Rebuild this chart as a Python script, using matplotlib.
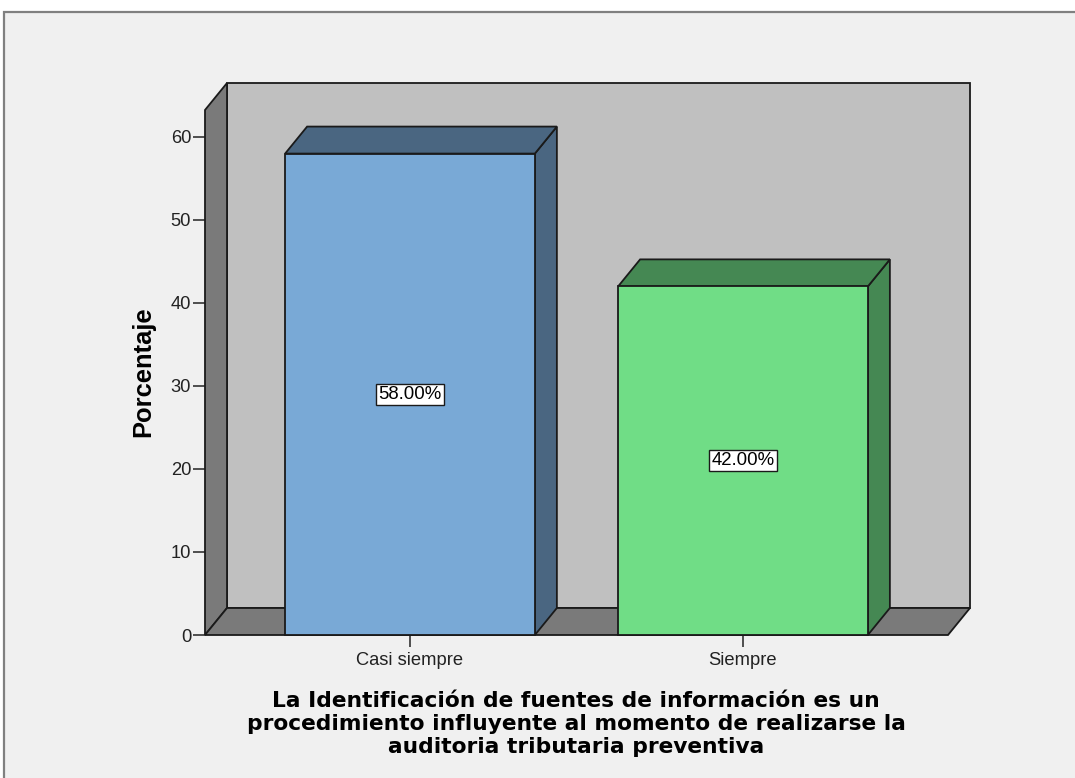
import matplotlib
matplotlib.use("Agg")
import matplotlib.pyplot as plt
from matplotlib.patches import Polygon, Rectangle

# ---- data -------------------------------------------------------------
categories = ["Casi siempre", "Siempre"]
percentages = [58.00, 42.00]
y_ticks = [0, 10, 20, 30, 40, 50, 60]
y_label = "Porcentaje"
x_title = ["La Identificación de fuentes de información es un",
           "procedimiento influyente al momento de realizarse la",
           "auditoria tributaria preventiva"]

# ---- styling ----------------------------------------------------------
front_colors = ["#79a9d6", "#70dd86"]
shade_colors = ["#4a6681", "#458853"]
wall_back = "#c0c0c0"
wall_side = "#7a7a7a"
panel_bg = "#f0f0f0"
edge = "#1a1a1a"
tick_font = "Liberation Sans"

W, H = 1075, 778
fig = plt.figure(figsize=(W / 100, H / 100), dpi=100)
fig.patch.set_facecolor("white")

# outer panel with grey frame
fig.patches.append(Rectangle((4 / W, -0.05), 1.1, 1 - 12 / H + 0.05,
                             transform=fig.transFigure, facecolor=panel_bg,
                             edgecolor="#808080", linewidth=1.6, zorder=-5))

# front plane of the 3-D box
left_px, right_px, bottom_px, top_px = 205, 948, 635, 110
ax = fig.add_axes([left_px / W, (H - bottom_px) / H,
                   (right_px - left_px) / W, (bottom_px - top_px) / H])
ax.set_facecolor("none")
ax.set_zorder(2)

xl, xr = -0.6156, 1.6156
ymax = 63.25
ax.set_xlim(xl, xr)
ax.set_ylim(0, ymax)

# depth offset (in data units) of the receding faces
DX = 22 * (xr - xl) / (right_px - left_px)
DY = 27 * ymax / (bottom_px - top_px)
lw = 1.3


def poly(pts, fc, z):
    ax.add_patch(Polygon(pts, closed=True, facecolor=fc, edgecolor=edge,
                         linewidth=lw, joinstyle="miter", clip_on=False,
                         zorder=z))


# back wall, left wall, floor
poly([(xl + DX, DY), (xr + DX, DY), (xr + DX, ymax + DY), (xl + DX, ymax + DY)],
     wall_back, 1)
poly([(xl, 0), (xl + DX, DY), (xl + DX, ymax + DY), (xl, ymax)], wall_side, 2)
poly([(xl, 0), (xr, 0), (xr + DX, DY), (xl + DX, DY)], wall_side, 2)

# bars
bar_w = 0.75
for i, (v, fc, sc) in enumerate(zip(percentages, front_colors, shade_colors)):
    x0, x1 = i - bar_w / 2, i + bar_w / 2
    poly([(x1, 0), (x1 + DX, DY), (x1 + DX, v + DY), (x1, v)], sc, 3)
    poly([(x0, v), (x1, v), (x1 + DX, v + DY), (x0 + DX, v + DY)], sc, 3)
    ax.bar(i, v, width=bar_w, color=fc, edgecolor=edge, linewidth=lw,
           zorder=4, clip_on=False)
    ax.text(i, v / 2, f"{v:.2f}%", ha="center", va="center",
            fontsize=13.4, family=tick_font, color="black", zorder=6,
            bbox=dict(boxstyle="square,pad=0.12", facecolor="white",
                      edgecolor=edge, linewidth=1.0))

# axes decoration
for s in ax.spines.values():
    s.set_visible(False)
ax.set_yticks(y_ticks)
ax.set_yticklabels([str(t) for t in y_ticks])
ax.set_xticks(range(len(categories)))
ax.set_xticklabels(categories)
ax.tick_params(axis="y", direction="out", length=8.5, width=1.1,
               color="#222222", pad=1.5, labelsize=13.2, labelcolor="#222222")
ax.tick_params(axis="x", direction="out", length=8.5, width=1.1,
               color="#222222", pad=4, labelsize=13.2, labelcolor="#222222")
for lab in ax.get_xticklabels() + ax.get_yticklabels():
    lab.set_family(tick_font)

fig.text(143 / W, 1 - 372 / H, y_label, rotation=90, ha="center",
         va="center", fontsize=18.4, fontweight="bold", family=tick_font,
         color="black")

for k, line in enumerate(x_title):
    fig.text(576 / W, 1 - (707 + 23 * k) / H, line, ha="center",
             va="baseline", fontsize=15.7, fontweight="bold",
             family="DejaVu Sans", color="black")

fig.savefig("out.png", dpi=100, facecolor=fig.get_facecolor())
